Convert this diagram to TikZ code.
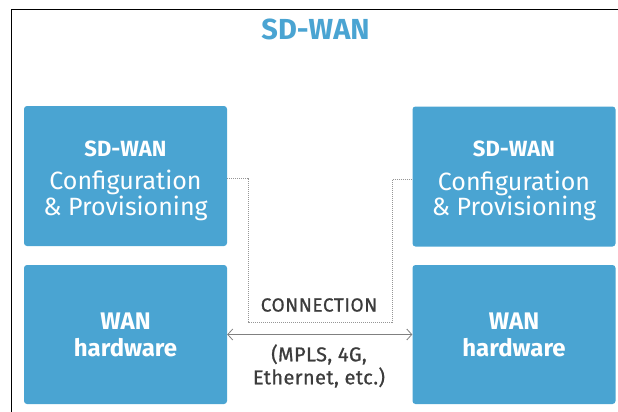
\documentclass[tikz,border=0pt]{standalone}
\usepackage{fontspec}
\setmainfont{Fira Sans}
\usetikzlibrary{arrows.meta}
\definecolor{wanblue}{RGB}{74,164,210}
\definecolor{linkgray}{RGB}{150,150,150}
\definecolor{textgray}{RGB}{60,60,60}
\tikzset{
  panel/.style={fill=wanblue, rounded corners=3pt, minimum width=203pt,
    text=white, align=center, inner sep=0pt},
  cfgpanel/.style={panel, minimum height=140pt, font=\fontsize{25}{25.5}\selectfont},
  hwpanel/.style={panel, minimum height=139pt, font=\fontsize{24}{27}\selectfont\bfseries},
  linkline/.style={draw=linkgray, line width=0.8pt, dash pattern=on 1pt off 1pt},
  linkarrow/.style={draw=gray, line width=0.8pt, {Straight Barb[length=5pt,width=11pt]}-{Straight Barb[length=5pt,width=11pt]}},
  caption/.style={text=textgray, align=center}
}
% text of a configuration panel; the strut lowers the block a little
\newcommand{\cfgtext}{\rule{0pt}{25pt}{\fontsize{22}{24}\selectfont\bfseries SD-WAN}\\[8pt]
  Configuration\\
  \& Provisioning}
\begin{document}
\begin{tikzpicture}[x=1pt,y=-1pt]
\useasboundingbox (0,0) rectangle (618,412);
% outer frame
\draw[line width=1.6pt] (11.5,412) -- (11.5,9.5) -- (618,9.5);
% title
\node[text=wanblue, font=\fontsize{29}{30}\selectfont\bfseries] (title) at (315.5,29) {SD-WAN};
% panels
\node[cfgpanel] (lcfg) at (125.5,176) {\cfgtext};
\node[cfgpanel] (rcfg) at (514,176.5) {\cfgtext};
\node[hwpanel] (lhw) at (125.5,334.5) {WAN\\hardware};
\node[hwpanel] (rhw) at (514,334.5) {WAN\\hardware};
% management link between the configuration panels
\coordinate (dl) at (248,322);
\coordinate (dr) at (392,322);
\draw[linkline] ([yshift=-2pt]lcfg.east) -| (dl) -- (dr) |- ([yshift=-3pt]rcfg.west);
% data connection between the hardware panels
\draw[linkarrow] (lhw.east) -- (rhw.west);
\node[caption, font=\fontsize{19}{22}\selectfont\addfontfeature{LetterSpace=3,FakeBold=0.8}] (conn) at (319,305) {CONNECTION};
\node[caption, font=\fontsize{20}{23}\selectfont\addfontfeature{LetterSpace=2,FakeBold=0.8}] (kinds) at (319,366) {(MPLS, 4G,\\Ethernet, etc.)};
\end{tikzpicture}
\end{document}
